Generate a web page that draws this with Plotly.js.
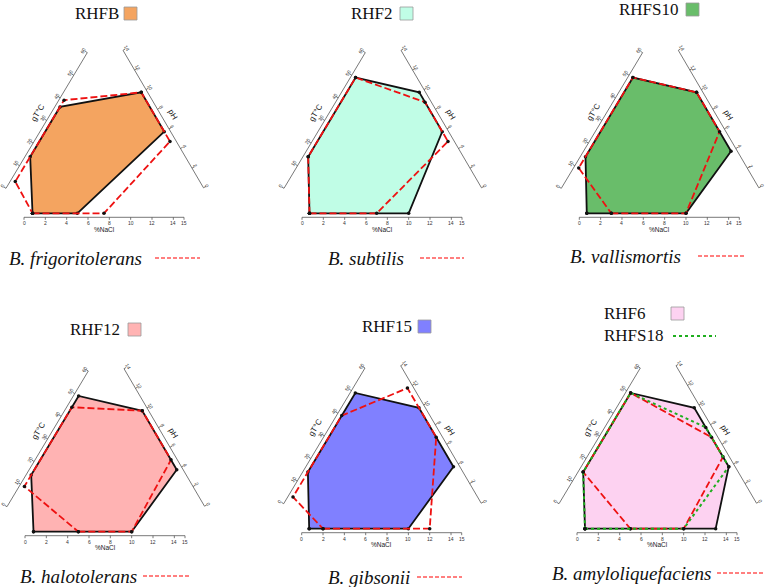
<!DOCTYPE html>
<html><head><meta charset="utf-8">
<script src="https://cdn.plot.ly/plotly-3.0.1.min.js"></script>
<style>html,body{margin:0;padding:0;background:#fff}</style>
</head><body><div id="chart" style="width:767px;height:587px"></div>
<script>
// ---------------- DATA ----------------
const isolates = ["RHFB", "RHF2", "RHFS10", "RHF12", "RHF15", "RHF6"];
const isoNaClMin = [0.8, 0.7, 0.7, 0.8, 0.7, 0.75];
const isoNaClMax = [5, 10, 10, 10, 10, 13];
const isoPHMin = [6, 6, 4, 4, 4, 4];
const isoPHMax = [10, 10, 10, 10, 10, 10];
const isoTMin = [15, 15, 15, 15, 15, 15];
const isoTMax = [37, 50, 50, 50, 50, 50];

const species = ["B. frigoritolerans", "B. subtilis", "B. vallismortis", "B. halotolerans", "B. gibsonii", "B. amyloliquefaciens"];
const spNaClMin = [0.8, 0.7, 3, 5, 2, 5];
const spNaClMax = [7.5, 7, 10, 10, 12, 10];
const spPHMin = [5, 5, 6, 5, 7, 5];
const spPHMax = [10, 9, 10, 10, 12, 7];
const spTMin = [4, 15, 10, 10, 4, 15];
const spTMax = [40, 50, 50, 45, 40, 50];

const extraIsolate = "RHFS18";   // drawn in the 6th panel
const extraNaCl = [0.75, 10];
const extraPH = [4, 8];
const extraT = [15, 50];

const naclTicks = [0, 2, 4, 6, 8, 10, 12, 14, 15];
const tTicks = [0, 10, 20, 30, 40, 50, 60];
const phTicks = [0, 2, 4, 6, 8, 10, 12, 14];
const naclTitle = "%NaCl", tTitle = "gT°C", phTitle = "pH";

// ---------------- STYLE / LAYOUT ----------------
const isoColors = ["#f4a460", "#c0fde6", "#69bd6a", "#ffb3b3", "#8080ff", "#fdd2f1"];
const spColor = "#ee1111";
const extraColor = "#1fae1f";

const panelOrigin = [[24, 217.3], [302, 217.3], [579.3, 217.3], [25, 535.7], [301.7, 532.7], [577, 532.7]];
const titlePos = [[73, 13], [349, 13], [617, 9], [68, 329], [360, 326], [602, 313]];
const swatchPos = [[124, 7], [400, 7], [686, 3], [128, 323], [418, 320], [671, 307]];
const speciesPos = [[7, 258], [326, 258], [568, 256], [18, 576], [326, 577], [550, 573]];
const speciesLine = [[155, 200, 258], [420, 464, 258], [698, 744, 256], [143, 189, 576], [417, 462, 577], [717, 764, 573]];
const extraTitlePos = [602, 335];
const extraLine = [673, 716, 336];

// axis geometry relative to panel origin (bottom-axis zero)
const BL = 160;
const L0 = [-18, -29], L1 = [63.3, -164.7];
const R0 = [179.5, -29.5], R1 = [99, -167];
const lenL = Math.hypot(L1[0] - L0[0], L1[1] - L0[1]);
const uL = [(L1[0] - L0[0]) / lenL, (L1[1] - L0[1]) / lenL];
const nL = [-uL[1], uL[0]];
const lenR = Math.hypot(R1[0] - R0[0], R1[1] - R0[1]);
const uR = [(R1[0] - R0[0]) / lenR, (R1[1] - R0[1]) / lenR];
const nR = [uR[1], -uR[0]];
const angL = Math.atan2(-uL[1], uL[0]) * 180 / Math.PI;
const angR = Math.atan2(uR[1], uR[0]) * 180 / Math.PI + 180;

function add(a, b) { return [a[0] + b[0], a[1] + b[1]]; }
function sc(a, k) { return [a[0] * k, a[1] * k]; }
function ptB(o, v, off) { return [o[0] + v / 15 * BL, o[1] - off]; }
function ptL(o, v, off) { return add(add(o, add(L0, sc(uL, v / 60 * lenL))), sc(nL, off)); }
function ptR(o, v, off) { return add(add(o, add(R0, sc(uR, v / 14 * lenR))), sc(nR, off)); }

function poly(o, nmin, nmax, pmin, pmax, tmin, tmax) {
  const p = [ptB(o, nmin, 4), ptB(o, nmax, 4), ptR(o, pmin, 5.5), ptR(o, pmax, 5.5), ptL(o, tmax, 4.5), ptL(o, tmin, 4.5)];
  p.push(p[0]);
  return { x: p.map(q => q[0]), y: p.map(q => q[1]) };
}

const traces = [];
const annotations = [];
const shapes = [];
const tickFont = { family: "Liberation Sans, Arial, sans-serif", size: 5, color: "#333" };

panelOrigin.forEach((o, i) => {
  // axes
  const ax = { x: [], y: [] };
  const seg = (a, b) => { ax.x.push(a[0], b[0], null); ax.y.push(a[1], b[1], null); };
  seg(o, [o[0] + BL, o[1]]);
  naclTicks.forEach(v => { const p = ptB(o, v, 0); seg(p, [p[0], p[1] + 2.5]); });
  seg(add(o, L0), add(o, L1));
  tTicks.forEach(v => { const p = ptL(o, v, 0); seg(p, add(p, sc(nL, -2.5))); });
  seg(add(o, R0), add(o, R1));
  phTicks.forEach(v => { const p = ptR(o, v, 0); seg(p, add(p, sc(nR, -2.5))); });
  traces.push({ type: "scatter", mode: "lines", x: ax.x, y: ax.y, line: { color: "#555", width: 0.8 }, hoverinfo: "skip" });

  naclTicks.forEach(v => { const p = ptB(o, v, -6);
    annotations.push({ x: p[0], y: p[1], text: String(v), showarrow: false, font: tickFont, xanchor: "center", yanchor: "middle" }); });
  tTicks.forEach(v => { const p = ptL(o, v, -4.5);
    annotations.push({ x: p[0], y: p[1], text: String(v), showarrow: false, font: tickFont, textangle: -angL, xanchor: "center", yanchor: "middle" }); });
  phTicks.forEach(v => { const p = ptR(o, v, -4.5);
    annotations.push({ x: p[0], y: p[1], text: String(v), showarrow: false, font: tickFont, textangle: angR, xanchor: "center", yanchor: "middle" }); });
  const tf = { family: "Liberation Sans, Arial, sans-serif", size: 6.5, color: "#222" };
  annotations.push({ x: o[0] + BL / 2, y: o[1] + 12, text: naclTitle, showarrow: false, font: tf, xanchor: "center", yanchor: "middle" });
  const pt = ptL(o, 31, -12);
  annotations.push({ x: pt[0], y: pt[1], text: tTitle, showarrow: false, font: { family: tf.family, size: 8, color: "#222" }, textangle: -angL, xanchor: "center", yanchor: "middle" });
  const pp = ptR(o, 6.9, -10);
  annotations.push({ x: pp[0], y: pp[1], text: phTitle, showarrow: false, font: { family: tf.family, size: 8, color: "#222" }, textangle: angR, xanchor: "center", yanchor: "middle" });

  // isolate polygon
  const P = poly(o, isoNaClMin[i], isoNaClMax[i], isoPHMin[i], isoPHMax[i], isoTMin[i], isoTMax[i]);
  traces.push({ type: "scatter", mode: "lines+markers", x: P.x, y: P.y, fill: "toself", fillcolor: isoColors[i],
    line: { color: "#111", width: 1.8 }, marker: { color: "#111", size: 3.5 }, hoverinfo: "skip" });
  // species polygon
  const S = poly(o, spNaClMin[i], spNaClMax[i], spPHMin[i], spPHMax[i], spTMin[i], spTMax[i]);
  traces.push({ type: "scatter", mode: "lines", x: S.x, y: S.y,
    line: { color: spColor, width: 1.8, dash: "7px,3px" }, hoverinfo: "skip" });
  traces.push({ type: "scatter", mode: "markers", x: S.x, y: S.y, marker: { color: "#111", size: 3.5 }, hoverinfo: "skip" });
  if (i === 5) {
    const E = poly(o, extraNaCl[0], extraNaCl[1], extraPH[0], extraPH[1], extraT[0], extraT[1]);
    traces.push({ type: "scatter", mode: "lines+markers", x: E.x, y: E.y,
      line: { color: extraColor, width: 2, dash: "dot" }, marker: { color: "#111", size: 3.5 }, hoverinfo: "skip" });
  }

  // legend-like titles
  annotations.push({ x: titlePos[i][0], y: titlePos[i][1], text: isolates[i], showarrow: false, xanchor: "left", yanchor: "middle",
    font: { family: "Liberation Serif, Times New Roman, serif", size: 17, color: "#111" } });
  shapes.push({ type: "rect", xref: "x", yref: "y", x0: swatchPos[i][0], x1: swatchPos[i][0] + 13, y0: swatchPos[i][1], y1: swatchPos[i][1] + 13,
    fillcolor: isoColors[i], line: { color: "#999", width: 0.8 } });
  annotations.push({ x: speciesPos[i][0], y: speciesPos[i][1], text: species[i], showarrow: false, xanchor: "left", yanchor: "middle",
    font: { family: "Liberation Serif, Times New Roman, serif", size: 19, color: "#111", style: "italic" } });
  traces.push({ type: "scatter", mode: "lines", x: [speciesLine[i][0], speciesLine[i][1]], y: [speciesLine[i][2], speciesLine[i][2]],
    line: { color: "#ff5555", width: 1.5, dash: "4px,2px" }, hoverinfo: "skip" });
});

annotations.push({ x: extraTitlePos[0], y: extraTitlePos[1], text: extraIsolate, showarrow: false, xanchor: "left", yanchor: "middle",
  font: { family: "Liberation Serif, Times New Roman, serif", size: 17, color: "#111" } });
traces.push({ type: "scatter", mode: "lines", x: [extraLine[0], extraLine[1]], y: [extraLine[2], extraLine[2]],
  line: { color: extraColor, width: 2, dash: "dot" }, hoverinfo: "skip" });

const layout = {
  width: 767, height: 587, margin: { l: 0, r: 0, t: 0, b: 0 }, showlegend: false,
  paper_bgcolor: "#fff", plot_bgcolor: "#fff",
  xaxis: { range: [0, 767], visible: false, fixedrange: true },
  yaxis: { range: [587, 0], visible: false, fixedrange: true },
  annotations: annotations, shapes: shapes
};
Plotly.newPlot("chart", traces, layout, { staticPlot: true, displayModeBar: false });
</script></body></html>
